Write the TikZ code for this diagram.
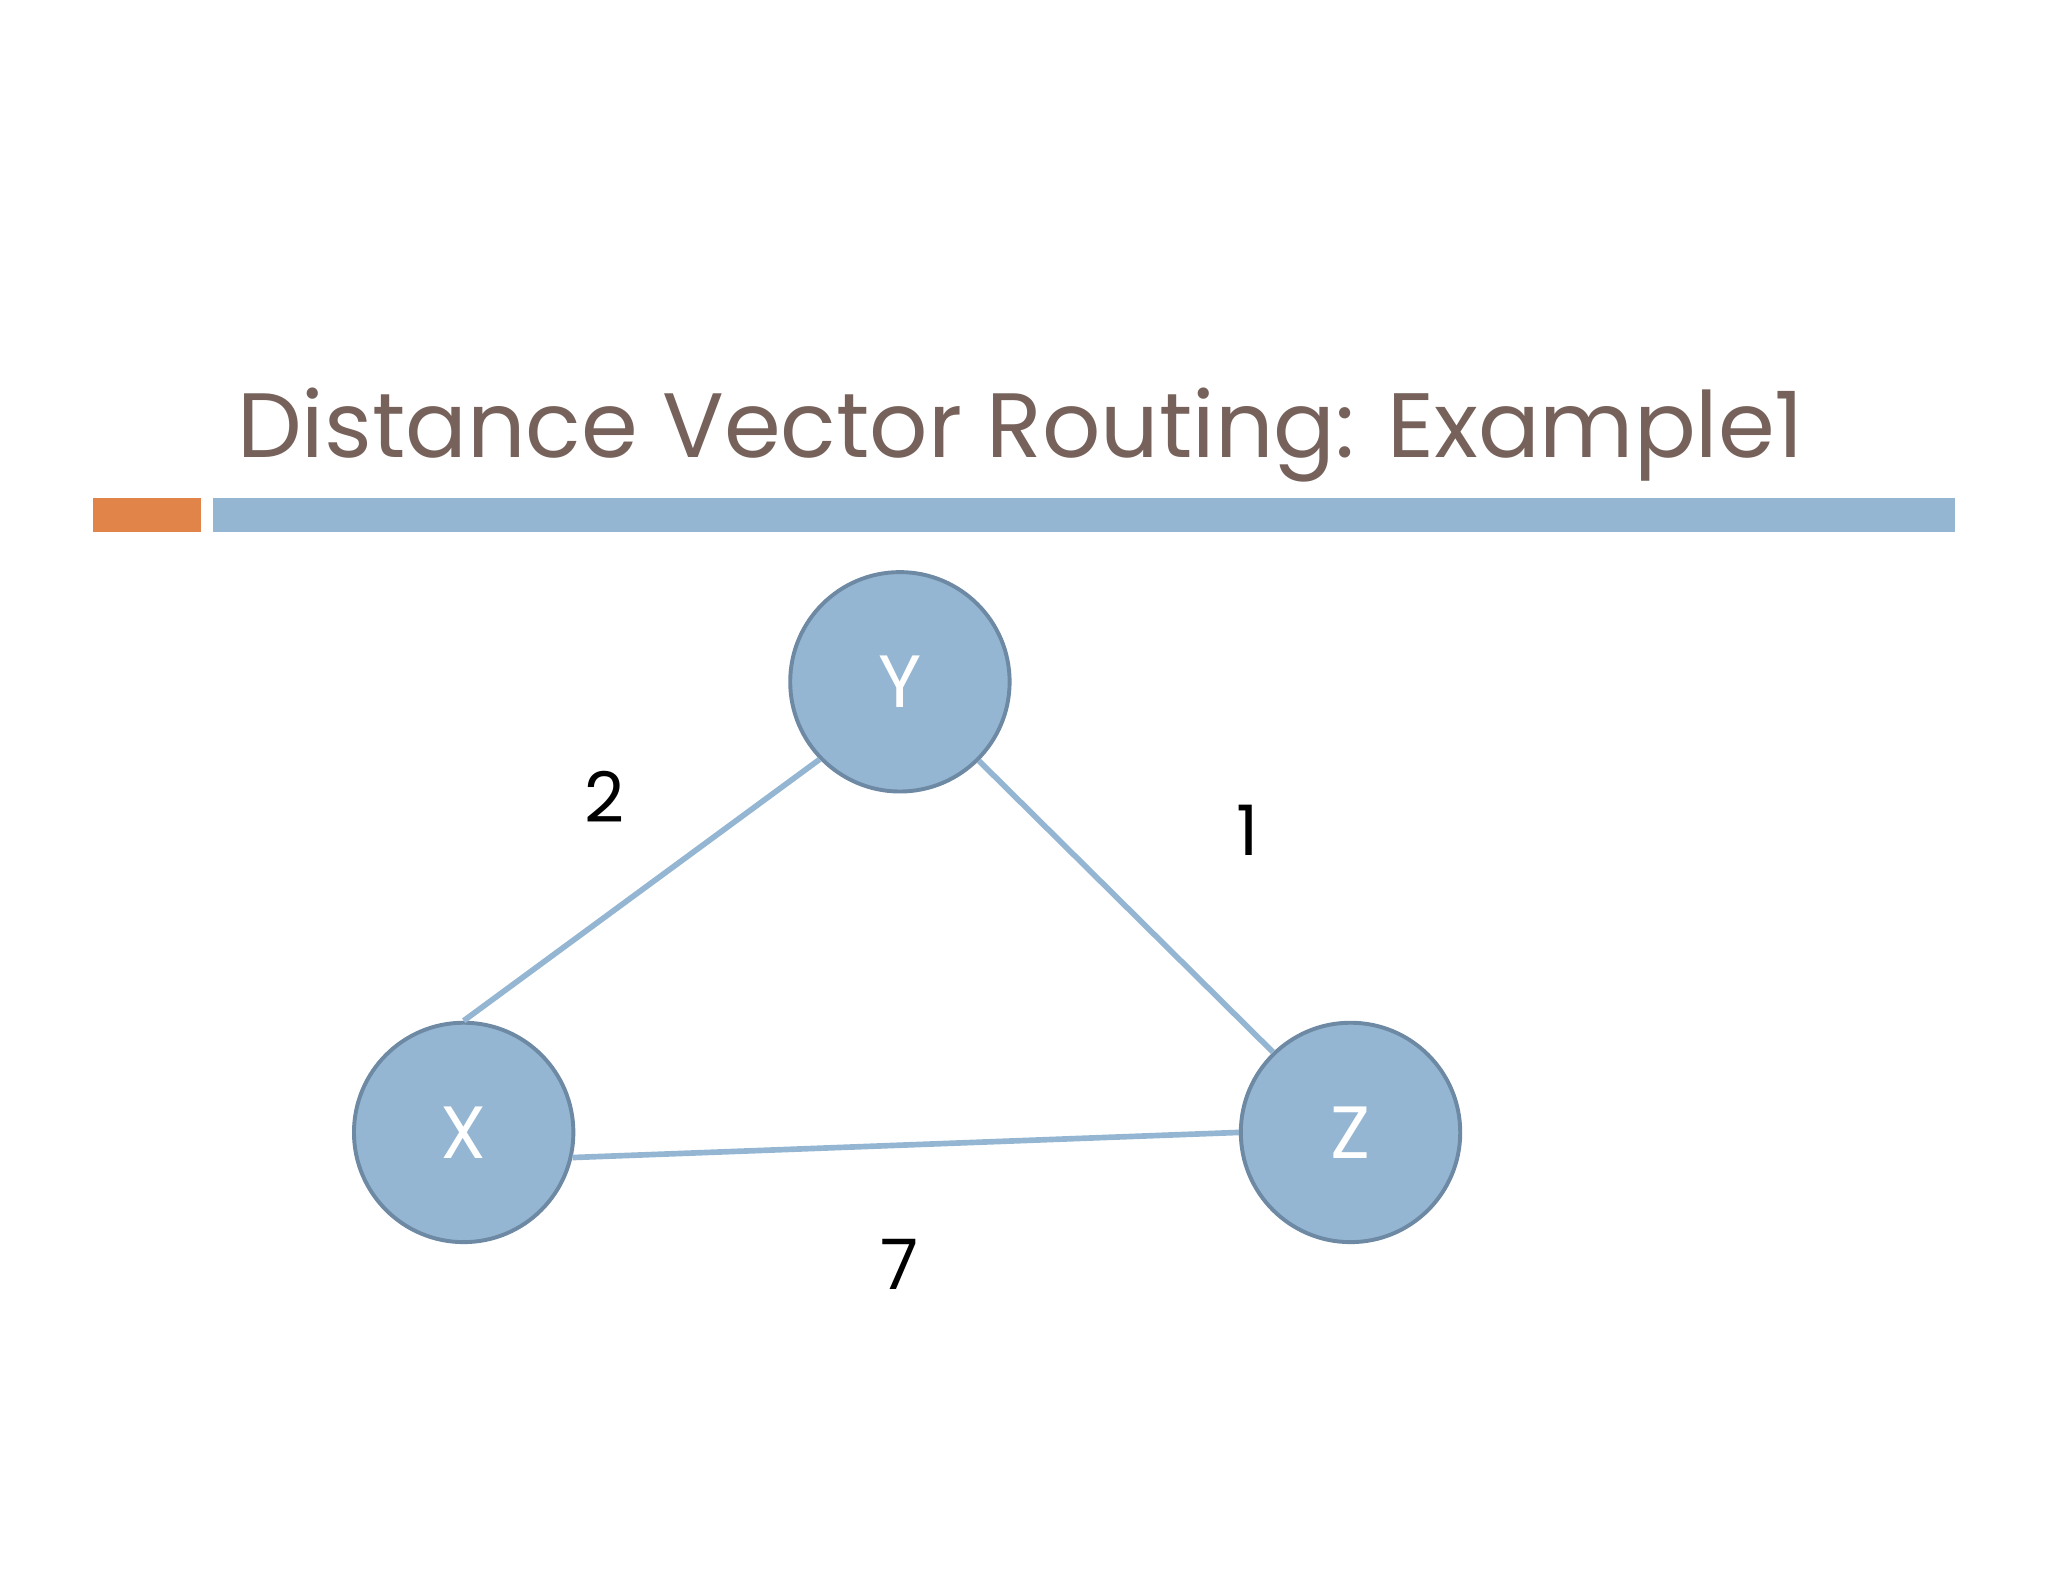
\documentclass[tikz,border=0pt]{standalone}
\usepackage{fontspec}
\setmainfont{Poppins}
\definecolor{tbrown}{HTML}{76625A}
\definecolor{tblue}{HTML}{94B6D2}
\definecolor{torange}{HTML}{E0844A}
\definecolor{tedge}{HTML}{6D89A3}
\begin{document}
\begin{tikzpicture}[x=0.3pt,y=-0.3pt,
  router/.style={circle,fill=tblue,draw=tedge,line width=0.9pt,minimum size=50.4pt,inner sep=0pt,text=white,font=\fontsize{17}{17}\selectfont},
  link/.style={draw=tblue,line width=1.3pt},
  cost/.style={font=\fontsize{16}{16}\selectfont,text=black}]
\useasboundingbox (0,0) rectangle (1568,1211);
\fill[torange] (71,381) rectangle (154,407);
\fill[tblue] (163,381) rectangle (1497,407);
\node[anchor=base west,text=tbrown,font=\fontsize{21}{21}\selectfont,inner sep=0pt] (title) at (181,350) {Distance Vector Routing: Example1};
\node[router] (Y) at (689,522) {Y};
\node[router] (X) at (355,867) {X};
\node[router] (Z) at (1034,867) {Z};
\draw[link] (Y.224.5) -- (X.north);
\draw[link] (Y.315.5) -- (Z.134);
\draw[link] (X.347) -- (Z.180);
\node[cost] (c2) at (463,610) {2};
\node[cost] (c1) at (955,636) {1};
\node[cost] (c7) at (689,968) {7};
\end{tikzpicture}
\end{document}
